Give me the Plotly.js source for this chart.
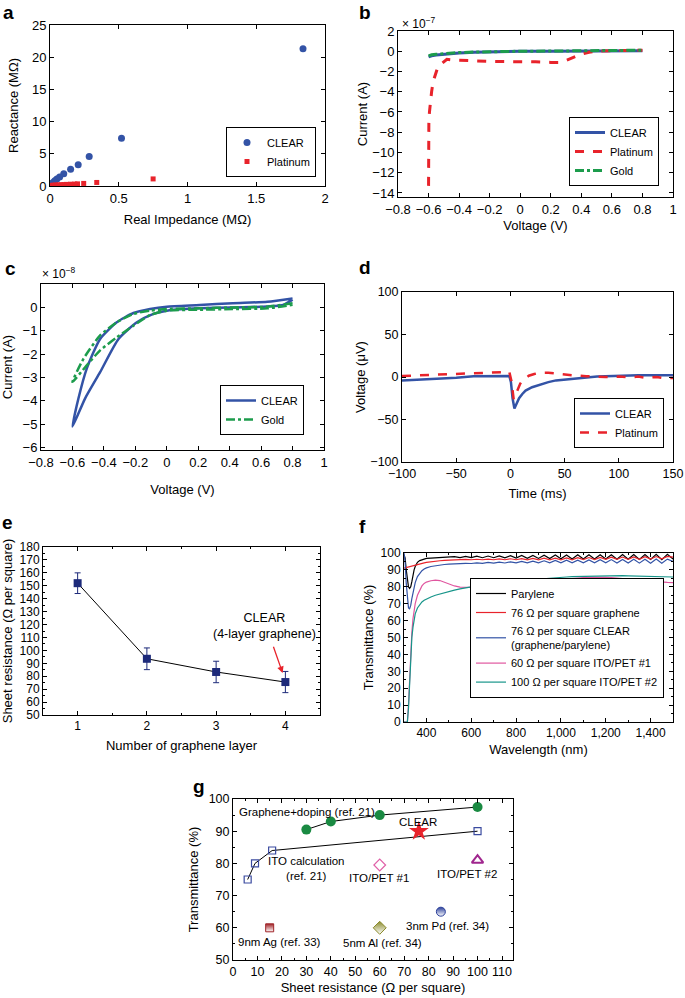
<!DOCTYPE html>
<html><head><meta charset="utf-8">
<script src="https://cdn.plot.ly/plotly-3.0.1.min.js"></script>
<style>html,body{margin:0;padding:0;background:#fff}#chart{width:685px;height:998px}</style>
</head><body><div id="chart"></div>
<script>
// ---------- Panel a: impedance (MΩ) ----------
const aClearX = [1.84, 0.52, 0.285, 0.205, 0.15, 0.1, 0.07, 0.05, 0.035, 0.025, 0.015, 0.01, 0.005, 0.002];
const aClearY = [21.3, 7.4, 4.6, 3.3, 2.6, 1.9, 1.4, 1.1, 0.8, 0.6, 0.4, 0.25, 0.15, 0.05];
const aPtX = [0.75, 0.34, 0.245, 0.2, 0.18, 0.15, 0.12, 0.1, 0.08, 0.06, 0.04, 0.025, 0.015, 0.008, 0.003];
const aPtY = [1.1, 0.55, 0.4, 0.33, 0.3, 0.28, 0.25, 0.22, 0.2, 0.18, 0.15, 0.12, 0.1, 0.08, 0.05];

// ---------- Panel b: current (x1e-7 A) vs voltage ----------
const bClearV = [-0.6, -0.58, -0.55, -0.5, -0.45, -0.4, -0.3, -0.2, -0.1, 0, 0.2, 0.4, 0.6, 0.8];
const bClearI = [-0.55, -0.45, -0.38, -0.3, -0.22, -0.17, -0.1, -0.06, -0.03, -0.01, 0, 0.02, 0.04, 0.05];
const bPtV = [-0.6, -0.6, -0.598, -0.594, -0.588, -0.58, -0.57, -0.56, -0.55, -0.54, -0.52, -0.5, -0.48, -0.45, -0.4, -0.3, -0.2, -0.1, 0, 0.1, 0.2, 0.25, 0.3, 0.35, 0.4, 0.45, 0.5, 0.6, 0.7, 0.8];
const bPtI = [-13.3, -10, -7, -6, -5, -4, -3, -2.5, -2.2, -1.6, -1.3, -1.0, -0.8, -0.85, -0.9, -0.95, -1.0, -1.0, -1.0, -1.05, -1.1, -1.1, -0.9, -0.6, -0.3, -0.1, 0.0, 0.05, 0.1, 0.1];
const bGoldV = [-0.6, -0.58, -0.55, -0.5, -0.45, -0.4, -0.3, -0.2, -0.1, 0, 0.2, 0.4, 0.6, 0.8];
const bGoldI = [-0.45, -0.35, -0.3, -0.22, -0.17, -0.13, -0.08, -0.04, -0.02, 0, 0.02, 0.04, 0.06, 0.1];

// ---------- Panel c: cyclic current (x1e-8 A) ----------
const cClearV = [0.8, 0.64, 0.42, 0.21, 0, -0.106, -0.212, -0.318, -0.424, -0.509, -0.562, -0.6, -0.52, -0.424, -0.307, -0.19, -0.085, 0, 0.106, 0.21, 0.42, 0.64, 0.74, 0.8];
const cClearI = [0.38, 0.24, 0.18, 0.1, 0.03, -0.07, -0.24, -0.64, -1.35, -2.62, -3.9, -5.1, -3.9, -2.77, -1.35, -0.64, -0.28, -0.14, -0.07, -0.04, 0, 0.04, 0.1, 0.33];
const cGoldV = [0.8, 0.64, 0.42, 0.21, 0, -0.106, -0.212, -0.318, -0.424, -0.53, -0.6, -0.509, -0.424, -0.318, -0.212, -0.106, 0, 0.21, 0.42, 0.64, 0.8];
const cGoldI = [0.18, 0.03, 0, -0.04, -0.07, -0.14, -0.28, -0.64, -1.2, -2.2, -3.19, -2.48, -1.84, -1.28, -0.78, -0.33, -0.14, -0.1, -0.07, -0.04, 0.11];

// ---------- Panel d: voltage (µV) vs time (ms) ----------
const dClearT = [-100, -80, -65, -50, -34, -20, -1, 0.5, 2, 3.7, 5, 8, 11, 14, 20, 26.5, 35, 42, 50, 57, 65, 72, 80, 87.5, 100, 118, 135, 150];
const dClearV = [-4, -3, -2, -1, 0.8, 1, 1.2, -6, -25, -37, -33, -25, -20, -16, -12, -9.2, -6, -4, -3, -2, -1, 0, 0.5, 0.8, 1.5, 2, 2, 2];
const dPtT = [-100, -80, -65, -50, -34, -20, -1, 1, 2, 3, 4.5, 6.7, 9, 11, 14, 17, 22, 26.5, 35, 42, 50, 57, 70, 87.5, 100, 110, 118, 125, 135, 142, 150];
const dPtV = [1.2, 2, 2.8, 3.5, 4.4, 5, 6, -5, -18, -26, -22, -14, -8, -4, -1, 1.5, 3.5, 4.8, 5, 4, 3, 2, 1, 0, 0.5, -0.5, 0.5, -1, 0, -1.5, -1.2];

// ---------- Panel e: sheet resistance vs layers ----------
const eLayers = [1, 2, 3, 4];
const eRes = [152, 93.5, 83.3, 75.5];
const eErr = [8, 8.4, 8.3, 8.2];

// ---------- Panel f: transmittance spectra ----------
const fWl = [300, 305, 310, 315, 320, 325, 330, 335, 340, 345, 350, 360, 370, 380, 390, 400, 420, 440, 460, 480, 500,
  525, 550, 575, 600, 625, 650, 675, 700, 725, 750, 775, 800, 825, 850, 875, 900, 925, 950, 975, 1000,
  1025, 1050, 1075, 1100, 1125, 1150, 1175, 1200, 1225, 1250, 1275, 1300, 1325, 1350, 1375, 1400, 1425, 1450, 1475, 1500];
const fParylene = [99, 97, 90, 83, 80, 79, 80, 83, 87, 90, 92, 94.5, 95.5, 96, 96.5, 96.8, 97, 97.2, 97.3, 97.4, 97.5,
  97.8, 97.3, 98, 97.3, 98.1, 97.2, 98.2, 97.2, 98.3, 97.1, 98.4, 97, 98.5, 96.9, 98.6, 96.8, 98.7, 96.7, 98.8, 96.6,
  98.8, 96.5, 98.9, 96.5, 99, 96.4, 99, 96.4, 99, 96.3, 99.1, 96.3, 99.1, 96.2, 99.1, 96.2, 99.2, 96.1, 99.2, 96.5];
const fGraphene = [91, 91.2, 91.4, 91.6, 91.8, 92, 92.2, 92.4, 92.6, 92.8, 93, 93.3, 93.6, 93.9, 94.2, 94.5, 94.9, 95.2, 95.4, 95.6, 95.8,
  96.0, 95.9, 96.2, 96.0, 96.3, 96.0, 96.4, 96.0, 96.5, 96.0, 96.6, 96.0, 96.7, 96.0, 96.8, 96.0, 96.9, 96.0, 97.0, 96.0,
  97.1, 96.0, 97.2, 96.1, 97.3, 96.1, 97.4, 96.2, 97.5, 96.2, 97.6, 96.3, 97.7, 96.3, 97.8, 96.4, 97.9, 96.5, 98.0, 97.5];
const fClear = [100, 95, 82, 72, 67.5, 67, 69, 73, 77, 80, 82.5, 86, 88, 89.5, 90.5, 91.2, 92, 92.5, 92.9, 93.2, 93.4,
  93.7, 93.6, 93.9, 93.8, 94.2, 93.9, 94.4, 94.0, 94.6, 94.1, 94.8, 94.2, 95.0, 94.2, 95.2, 94.2, 95.4, 94.2, 95.6, 94.2,
  95.7, 94.2, 95.8, 94.2, 95.9, 94.2, 96.0, 94.2, 96.1, 94.1, 96.2, 94.1, 96.3, 94.0, 96.3, 94.0, 96.4, 94.0, 96.4, 95];
const fIto1 = [0, 0, 0, 0, 10, 28, 42, 53, 61, 66, 70, 75, 78, 80.5, 82, 82.8, 83.6, 83.9, 83.7, 82.6, 81.5,
  80.5, 79.8, 79.6, 79.7, 80, 80.3, 80.7, 81, 81.3, 81.6, 81.9, 82.2, 82.5, 82.8, 83.1, 83.4, 83.7, 84, 84.3, 84.6,
  84.8, 85, 85.2, 85.4, 85.6, 85.7, 85.7, 85.6, 85.4, 85.2, 85, 84.6, 84.2, 83.8, 83.5, 83.2, 83, 82.8, 82.6, 82.5];
const fIto2 = [0, 0, 0, 0, 8, 25, 40, 50, 56, 61, 64, 67.5, 69.5, 71, 72, 72.8, 74, 75, 75.8, 76.5, 77.2,
  78, 78.8, 79.5, 80.1, 80.6, 81.1, 81.6, 82, 82.4, 82.8, 83.2, 83.5, 83.8, 84.1, 84.4, 84.7, 85, 85.2, 85.4, 85.6,
  85.8, 86, 86.1, 86.2, 86.3, 86.4, 86.5, 86.6, 86.6, 86.6, 86.6, 86.5, 86.4, 86.3, 86.2, 86.1, 86, 86, 86, 85.8];

// ---------- Panel g: transmittance vs sheet resistance ----------
const gDopR = [30, 40, 60, 100], gDopT = [90.5, 93, 95, 97.5];
const gItoR = [6, 9, 16, 100], gItoT = [75, 80, 84, 90];
const gClearR = [76], gClearT = [90];
const gPet1R = [60], gPet1T = [79.5];
const gPet2R = [100], gPet2T = [81];
const gPdR = [85], gPdT = [65];
const gAgR = [15], gAgT = [60];
const gAlR = [60], gAlT = [60];

// ---------- layout helpers ----------
const W = 685, H = 998;
const FONT = '"Liberation Sans", Arial, Helvetica, sans-serif';
const BLUE = '#3353a6', RED = '#e8232b', GREEN = '#1c9c4c', NAVY = '#1d2a7a';
function xd(a, b) { return [a / W, b / W]; }
function yd(top, bottom) { return [1 - bottom / H, 1 - top / H]; }
function ax(o, title, tsize, standoff, fsize) {
  return Object.assign({
    showline: true, linecolor: '#000', linewidth: 1, mirror: 'ticks',
    ticks: 'inside', ticklen: 4, tickcolor: '#000', tickwidth: 1,
    showgrid: false, zeroline: false,
    tickfont: { size: fsize || 13, color: '#000' },
    title: { text: title, font: { size: tsize || 13, color: '#000' }, standoff: standoff }
  }, o);
}
function leg(right, bottom, size) {
  return { x: right / W, y: 1 - bottom / H, xanchor: 'right', yanchor: 'bottom', bordercolor: '#000', borderwidth: 1,
    bgcolor: '#fff', font: { size: size || 11, color: '#000' }, tracegroupgap: 0, itemwidth: 30 };
}

const traces = [
  // a
  { x: aClearX, y: aClearY, mode: 'markers', name: 'CLEAR', marker: { color: BLUE, size: 7 }, xaxis: 'x', yaxis: 'y', legend: 'legend' },
  { x: aPtX, y: aPtY, mode: 'markers', name: 'Platinum', marker: { color: RED, size: 5, symbol: 'square' }, xaxis: 'x', yaxis: 'y', legend: 'legend' },
  // b
  { x: bClearV, y: bClearI, mode: 'lines', name: 'CLEAR', line: { color: BLUE, width: 3 }, xaxis: 'x2', yaxis: 'y2', legend: 'legend2' },
  { x: bPtV, y: bPtI, mode: 'lines', name: 'Platinum', line: { color: RED, width: 3, dash: 'dash' }, xaxis: 'x2', yaxis: 'y2', legend: 'legend2' },
  { x: bGoldV, y: bGoldI, mode: 'lines', name: 'Gold', line: { color: GREEN, width: 3, dash: 'dashdot' }, xaxis: 'x2', yaxis: 'y2', legend: 'legend2' },
  // c
  { x: cClearV, y: cClearI, mode: 'lines', name: 'CLEAR', line: { color: BLUE, width: 2.5, shape: 'spline', smoothing: 0.6 }, xaxis: 'x3', yaxis: 'y3', legend: 'legend3' },
  { x: cGoldV, y: cGoldI, mode: 'lines', name: 'Gold', line: { color: GREEN, width: 2.5, dash: 'dashdot', shape: 'spline', smoothing: 0.6 }, xaxis: 'x3', yaxis: 'y3', legend: 'legend3' },
  // d
  { x: dClearT, y: dClearV, mode: 'lines', name: 'CLEAR', line: { color: BLUE, width: 2.5 }, xaxis: 'x4', yaxis: 'y4', legend: 'legend4' },
  { x: dPtT, y: dPtV, mode: 'lines', name: 'Platinum', line: { color: RED, width: 2.5, dash: 'dash' }, xaxis: 'x4', yaxis: 'y4', legend: 'legend4' },
  // e
  { x: eLayers, y: eRes, mode: 'lines+markers', showlegend: false, line: { color: '#000', width: 1 },
    marker: { color: NAVY, size: 8, symbol: 'square' },
    error_y: { type: 'data', array: eErr, visible: true, color: NAVY, thickness: 1, width: 3 }, xaxis: 'x5', yaxis: 'y5' },
  // f
  { x: fWl, y: fParylene, mode: 'lines', name: 'Parylene', line: { color: '#000', width: 1.2 }, xaxis: 'x6', yaxis: 'y6', legend: 'legend5' },
  { x: fWl, y: fGraphene, mode: 'lines', name: '76 Ω per square graphene', line: { color: RED, width: 1.2 }, xaxis: 'x6', yaxis: 'y6', legend: 'legend5' },
  { x: fWl, y: fClear, mode: 'lines', name: '76 Ω per square CLEAR<br>(graphene/parylene)', line: { color: BLUE, width: 1.2 }, xaxis: 'x6', yaxis: 'y6', legend: 'legend5' },
  { x: fWl, y: fIto1, mode: 'lines', name: '60 Ω per square ITO/PET #1', line: { color: '#e0569f', width: 1.2 }, xaxis: 'x6', yaxis: 'y6', legend: 'legend5' },
  { x: fWl, y: fIto2, mode: 'lines', name: '100 Ω per square ITO/PET #2', line: { color: '#17958a', width: 1.2 }, xaxis: 'x6', yaxis: 'y6', legend: 'legend5' },
  // g
  { x: gDopR, y: gDopT, mode: 'lines+markers', showlegend: false, line: { color: '#000', width: 1 }, marker: { color: '#1a8a42', size: 10 }, xaxis: 'x7', yaxis: 'y7' },
  { x: gItoR, y: gItoT, mode: 'lines+markers', showlegend: false, line: { color: '#000', width: 1 }, marker: { color: '#3b4ba0', size: 7, symbol: 'square-open', line: { width: 1.2 } }, xaxis: 'x7', yaxis: 'y7' },
  { x: gClearR, y: gClearT, mode: 'markers', showlegend: false, marker: { color: RED, size: 15, symbol: 'star' }, xaxis: 'x7', yaxis: 'y7' },
  { x: gPet1R, y: gPet1T, mode: 'markers', showlegend: false, marker: { color: '#e060a8', size: 9, symbol: 'diamond-open', line: { width: 1.2 } }, xaxis: 'x7', yaxis: 'y7' },
  { x: gPet2R, y: gPet2T, mode: 'markers', showlegend: false, marker: { color: '#a0268e', size: 10, symbol: 'triangle-up-open', line: { width: 2 } }, xaxis: 'x7', yaxis: 'y7' },
  { x: gPdR, y: gPdT, mode: 'markers', showlegend: false, marker: { color: '#2a3f9a', size: 9, symbol: 'circle', gradient: { type: 'vertical', color: '#ffffff' }, line: { color: '#2a3f9a', width: 1 } }, xaxis: 'x7', yaxis: 'y7' },
  { x: gAgR, y: gAgT, mode: 'markers', showlegend: false, marker: { color: '#a02428', size: 8, symbol: 'square', gradient: { type: 'vertical', color: '#ffffff' }, line: { color: '#a02428', width: 1 } }, xaxis: 'x7', yaxis: 'y7' },
  { x: gAlR, y: gAlT, mode: 'markers', showlegend: false, marker: { color: '#8a8a2a', size: 10, symbol: 'diamond', gradient: { type: 'vertical', color: '#ffffff' }, line: { color: '#8a8a2a', width: 1 } }, xaxis: 'x7', yaxis: 'y7' }
];

const letter = (t, x, y) => ({ text: '<b>' + t + '</b>', x: x / W, y: 1 - y / H, xref: 'paper', yref: 'paper', xanchor: 'left', yanchor: 'middle', showarrow: false, font: { size: 19, color: '#000' } });
const gNote = (t, x, y) => ({ text: t, x: x, y: y, xref: 'x7', yref: 'y7', showarrow: false, font: { size: 11.5, color: '#000' } });

const layout = {
  width: W, height: H, paper_bgcolor: '#fff', plot_bgcolor: '#fff',
  margin: { l: 0, r: 0, t: 0, b: 0 }, font: { family: FONT, size: 13, color: '#000' },
  showlegend: true, hovermode: false,
  xaxis: ax({ domain: xd(50, 325), anchor: 'y', range: [0, 2], dtick: 0.5 }, 'Real Impedance (MΩ)', 13, 10),
  yaxis: ax({ domain: yd(25, 186), anchor: 'x', range: [0, 25], dtick: 5 }, 'Reactance (MΩ)', 13, 10),
  xaxis2: ax({ domain: xd(398, 673), anchor: 'y2', range: [-0.8, 1], dtick: 0.2 }, 'Voltage (V)', 13, 5),
  yaxis2: ax({ domain: yd(31, 197), anchor: 'x2', range: [-14.4, 2], dtick: 2 }, 'Current (A)', 13, 1),
  xaxis3: ax({ domain: xd(41, 324), anchor: 'y3', range: [-0.8, 1], dtick: 0.2 }, 'Voltage (V)', 13, 16),
  yaxis3: ax({ domain: yd(284, 450), anchor: 'x3', range: [-6.1, 1], tickvals: [-6, -5, -4, -3, -2, -1, 0] }, 'Current (A)', 13, 12),
  xaxis4: ax({ domain: xd(402, 673), anchor: 'y4', range: [-100, 150], dtick: 50 }, 'Time (ms)', 13, 8, 12.5),
  yaxis4: ax({ domain: yd(292, 462), anchor: 'x4', range: [-100, 100], dtick: 50 }, 'Voltage (μV)', 13, 1, 12.5),
  xaxis5: ax({ domain: xd(43, 320), anchor: 'y5', range: [0.5, 4.5], dtick: 1, minor: { ticks: 'inside', dtick: 0.5, ticklen: 2, tickcolor: '#000' } }, 'Number of graphene layer', 13, 8, 12),
  yaxis5: ax({ domain: yd(547, 715), anchor: 'x5', range: [50, 180], dtick: 10, minor: { ticks: 'inside', dtick: 5, ticklen: 2, tickcolor: '#000' } }, 'Sheet resistance (Ω per square)', 13, 4, 12),
  xaxis6: ax({ domain: xd(404, 673), anchor: 'y6', range: [300, 1500], tickvals: [400, 600, 800, 1000, 1200, 1400], tickformat: ',', minor: { ticks: 'inside', dtick: 100, ticklen: 2, tickcolor: '#000' } }, 'Wavelength (nm)', 13, 5, 12),
  yaxis6: ax({ domain: yd(553, 722), anchor: 'x6', range: [0, 100], dtick: 10, minor: { ticks: 'inside', dtick: 5, ticklen: 2, tickcolor: '#000' } }, 'Transmittance (%)', 13, 4, 12),
  xaxis7: ax({ domain: xd(233, 513), anchor: 'y7', range: [0, 114.5], dtick: 10, minor: { ticks: 'inside', dtick: 5, ticklen: 2, tickcolor: '#000' } }, 'Sheet resistance (Ω per square)', 13, 4, 12.5),
  yaxis7: ax({ domain: yd(799, 960), anchor: 'x7', range: [50, 100], dtick: 10, minor: { ticks: 'inside', dtick: 5, ticklen: 2, tickcolor: '#000' } }, 'Transmittance (%)', 13, 7, 12.5),
  legend: leg(316, 177),
  legend2: leg(659, 186),
  legend3: leg(304, 435),
  legend4: leg(664, 448),
  legend5: leg(664, 698, 11),
  annotations: [
    letter('a', 1, 12), letter('b', 357, 12), letter('c', 3, 268), letter('d', 357, 267),
    letter('e', 0, 522), letter('f', 357, 526), letter('g', 191, 786),
    { text: '× 10<sup>−7</sup>', x: 400 / W, y: 1 - 23 / H, xref: 'paper', yref: 'paper', xanchor: 'left', yanchor: 'middle', showarrow: false, font: { size: 12 } },
    { text: '× 10<sup>−8</sup>', x: 40 / W, y: 1 - 273 / H, xref: 'paper', yref: 'paper', xanchor: 'left', yanchor: 'middle', showarrow: false, font: { size: 12 } },
    { text: 'CLEAR<br>(4-layer graphene)', x: 3.7, y: 119, xref: 'x5', yref: 'y5', showarrow: false, font: { size: 12.5, color: '#000' } },
    { text: '', x: 3.96, y: 82.5, ax: 3.82, ay: 104, axref: 'x5', ayref: 'y5', xref: 'x5', yref: 'y5', showarrow: true, arrowhead: 2, arrowsize: 1, arrowwidth: 1.3, arrowcolor: RED },
    gNote('Graphene+doping (ref. 21)', 30.2, 96),
    gNote('CLEAR', 75.5, 92.9),
    gNote('ITO calculation<br>(ref. 21)', 30, 78.3),
    gNote('ITO/PET #1', 59.6, 75.5),
    gNote('ITO/PET #2', 95.5, 76.7),
    gNote('3nm Pd (ref. 34)', 87.8, 60.6),
    gNote('9nm Ag (ref. 33)', 19.2, 55.6),
    gNote('5nm Al (ref. 34)', 61.2, 55.3)
  ]
};

Plotly.newPlot('chart', traces, layout, { staticPlot: true, displayModeBar: false });
</script>
</body></html>
